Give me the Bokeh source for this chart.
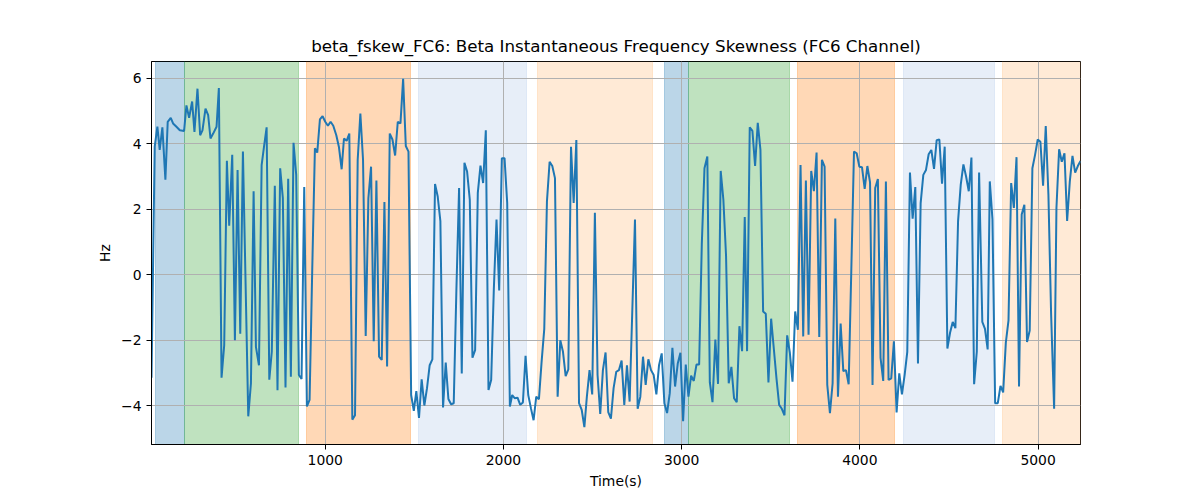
from bokeh.plotting import figure
from bokeh.models import Range1d, FixedTicker, CustomJSTickFormatter
from bokeh.embed import file_html
from bokeh.resources import INLINE

FONT = 'DejaVu Sans'

# DATA

time = [
    25, 43, 58, 71, 86, 103, 116, 133, 146, 165, 184, 208, 221, 236, 253, 266, 283, 298, 311, 328,
    343, 356, 371, 390, 403, 418, 433, 448, 461, 478, 493, 508, 523, 538, 568, 583, 598, 611, 628, 643,
    656, 671, 686, 700, 717, 732, 747, 762, 777, 792, 807, 822, 837, 852, 867, 882, 897, 912, 927, 942,
    955, 970, 985, 1000, 1015, 1030, 1045, 1062, 1077, 1092, 1105, 1120, 1135, 1152, 1167, 1182, 1197, 1212, 1227, 1242,
    1257, 1272, 1287, 1302, 1317, 1332, 1347, 1362, 1377, 1392, 1407, 1422, 1437, 1452, 1467, 1482, 1497, 1511, 1526, 1541,
    1556, 1571, 1586, 1601, 1616, 1631, 1646, 1661, 1676, 1691, 1706, 1721, 1736, 1751, 1766, 1781, 1796, 1811, 1826, 1841,
    1856, 1871, 1886, 1901, 1916, 1931, 1946, 1961, 1976, 1991, 2006, 2021, 2036, 2049, 2064, 2079, 2094, 2109, 2124, 2139,
    2154, 2169, 2184, 2199, 2214, 2229, 2244, 2259, 2274, 2289, 2304, 2319, 2334, 2349, 2364, 2379, 2394, 2409, 2424, 2439,
    2454, 2468, 2483, 2498, 2513, 2528, 2543, 2558, 2573, 2588, 2603, 2618, 2633, 2648, 2663, 2678, 2693, 2708, 2738, 2753,
    2768, 2783, 2798, 2813, 2828, 2843, 2858, 2873, 2888, 2903, 2918, 2933, 2948, 2963, 2978, 2993, 3008, 3023, 3038, 3053,
    3068, 3083, 3098, 3113, 3128, 3144, 3158, 3173, 3189, 3204, 3219, 3234, 3249, 3264, 3279, 3294, 3309, 3324, 3339, 3354,
    3367, 3382, 3397, 3412, 3427, 3442, 3457, 3472, 3487, 3502, 3517, 3532, 3547, 3562, 3577, 3592, 3607, 3622, 3637, 3652,
    3667, 3682, 3697, 3712, 3727, 3742, 3757, 3772, 3787, 3802, 3817, 3832, 3847, 3862, 3877, 3892, 3907, 3922, 3937, 3952,
    3967, 3982, 3997, 4012, 4027, 4042, 4057, 4071, 4086, 4101, 4116, 4131, 4146, 4161, 4176, 4191, 4206, 4221, 4236, 4251,
    4266, 4281, 4296, 4311, 4326, 4341, 4356, 4371, 4386, 4401, 4416, 4431, 4446, 4461, 4476, 4491, 4506, 4521, 4536, 4551,
    4566, 4581, 4596, 4611, 4626, 4641, 4656, 4669, 4687, 4702, 4717, 4729, 4744, 4759, 4774, 4789, 4804, 4819, 4834, 4849,
    4864, 4879, 4893, 4908, 4923, 4938, 4953, 4968, 4983, 4998, 5013, 5028, 5043, 5058, 5073, 5090, 5103, 5118, 5133, 5148,
    5163, 5178, 5193, 5208, 5223, 5238,
]

skew = [
    -3.14, 3.91, 4.52, 3.81, 4.5, 2.9, 4.67, 4.79, 4.62, 4.52, 4.41, 4.39, 5.17, 4.79, 5.29, 4.36, 5.68, 4.26, 4.41, 5.07,
    4.87, 4.16, 4.31, 4.52, 5.7, -3.14, -2.15, 3.48, 1.5, 3.66, -2.0, 3.2, -1.8, 3.76, -4.32, -3.31, 2.55, -2.2, -2.76, 3.35,
    3.9, 4.5, -3.2, -2.35, 2.72, -3.52, 3.25, 2.34, -3.44, 2.93, -3.11, 4.03, 3.05, -3.06, -3.18, 2.68, -4.02, -3.82, 0.17, 3.86,
    3.73, 4.74, 4.84, 4.67, 4.55, 4.67, 4.55, 4.26, 3.89, 3.22, 4.16, 4.09, 4.31, -4.42, -4.29, 3.51, 4.92, 3.51, -1.87, 2.34,
    3.3, -2.03, 2.88, -2.5, -2.6, 2.22, -2.8, 4.31, 4.13, 3.64, 4.67, 4.62, 5.98, 3.93, 3.76, -3.67, -4.15, -3.55, -4.37, -3.19,
    -3.99, -3.46, -2.76, -2.58, 2.77, 2.39, 1.64, -4.05, -2.68, -3.79, -3.95, -3.92, -0.43, 2.65, -3.01, 3.42, 3.15, 2.29, -2.53, -2.3,
    2.5, 3.33, 2.8, 4.41, -3.52, -3.21, -0.43, 1.69, -0.48, 3.56, 3.56, 2.19, -4.02, -3.67, -3.77, -3.75, -3.97, -3.9, -2.47, -3.67,
    -4.07, -4.44, -3.72, -3.8, -2.66, -1.65, 2.24, 3.45, 3.32, 2.95, -3.72, -2.0, -2.35, -3.09, -2.89, 3.91, 2.19, 4.11, -3.92, -4.12,
    -4.65, -3.72, -2.91, -3.65, 1.89, -3.06, -4.25, -2.91, -2.37, -4.19, -4.39, -3.46, -2.96, -2.91, -2.62, -3.97, -2.76, -3.87, 1.69, -4.09,
    -3.72, -2.5, -3.36, -2.58, -2.91, -3.06, -3.65, -2.76, -2.4, -3.92, -4.22, -3.62, -2.23, -3.41, -2.71, -2.38, -4.47, -2.74, -3.72, -3.08,
    -3.24, -2.74, -2.74, 0.94, 3.25, 3.61, -3.28, -3.89, -1.98, -3.33, 3.17, 2.29, 0.58, -3.31, -2.81, -3.77, -3.89, -1.57, -2.33, 1.76,
    -2.33, 4.5, 4.39, 3.32, 4.64, 3.81, -1.12, -1.19, -3.29, -1.34, -2.25, -3.16, -3.97, -4.09, -4.29, -1.85, -2.38, -3.26, -1.12, -1.68,
    3.35, -1.88, 2.88, -1.83, 3.17, 2.55, 3.73, -1.9, 3.51, 3.3, -3.36, -4.22, -3.31, 1.72, -3.72, -1.49, -2.94, -2.91, -3.34, 0.17,
    3.76, 3.71, 3.3, 3.28, 2.62, 3.32, 2.82, -3.36, 2.65, 2.92, -2.54, -3.24, 2.85, -3.21, -3.16, -2.03, -4.2, -3.01, -3.65, -3.06,
    -2.35, 3.12, 1.71, 2.68, -2.71, 2.19, 3.05, 3.2, 3.68, 3.81, 3.23, 4.11, 4.13, 2.78, 3.91, -2.25, -1.77, -1.44, -1.63, 1.64,
    2.75, 3.37, 3.0, 2.55, 3.58, -3.34, -2.35, 3.12, -1.44, -1.65, -2.28, 2.85, 1.69, -3.92, -3.92, -3.39, -3.59, -2.07, -1.39, 2.8,
    2.04, 3.59, -3.41, 1.84, 2.14, -2.05, -1.7, 3.25, 3.66, 4.13, 4.06, 2.72, 4.54, 2.44, -1.19, -4.09, 2.04, 3.83, 3.45, 3.71,
    1.64, 2.85, 3.63, 3.12, 3.32, 3.47,
]

band_start = [49, 212, 897, 1526, 2189, 2903, 3036, 3650, 4246, 4802]
band_end = [212, 850, 1476, 2131, 2839, 3036, 3603, 4193, 4757, 5238]
band_color = ['#1f77b4', '#2ca02c', '#ff7f0e', '#aec7e8', '#ffbb78',
              '#1f77b4', '#2ca02c', '#ff7f0e', '#aec7e8', '#ffbb78']

x_ticks = [1000, 2000, 3000, 4000, 5000]
y_ticks = [-4, -2, 0, 2, 4, 6]

# DATA VISUALIZING

p = figure(
    title='beta_fskew_FC6: Beta Instantaneous Frequency Skewness (FC6 Channel)',
    width=1190,
    height=492,
    x_range=Range1d(time[0], time[-1]),
    y_range=Range1d(-5.18, 6.51),
    x_axis_label='Time(s)',
    y_axis_label='Hz',
    toolbar_location=None,
    tools='',
    output_backend='svg',
    min_border_left=151,
    min_border_right=110,
    min_border_top=61,
    min_border_bottom=48,
)

bands = p.vstrip(
    x0=band_start,
    x1=band_end,
    fill_color=band_color,
    fill_alpha=0.3,
    line_color=band_color,
    line_alpha=0.3,
    line_width=1,
)
# keep the grid drawn above the shaded spans
bands.level = 'image'

p.line(time, skew, line_color='#1f77b4', line_width=2)

minus = CustomJSTickFormatter(code="return tick < 0 ? '\\u2212' + (-tick) : String(tick);")
p.xaxis.ticker = FixedTicker(ticks=x_ticks)
p.yaxis.ticker = FixedTicker(ticks=y_ticks)
p.yaxis.formatter = minus

p.grid.grid_line_color = '#b0b0b0'
p.grid.grid_line_width = 1

p.outline_line_color = 'black'
p.outline_line_width = 1
p.axis.axis_line_color = 'black'
p.axis.major_tick_line_color = 'black'
p.axis.major_tick_in = 0
p.axis.major_tick_out = 5
p.axis.minor_tick_line_color = None

p.title.align = 'center'
p.title.text_font = FONT
p.title.text_font_size = '16.7px'
p.title.text_font_style = 'normal'
p.title.text_color = 'black'
p.title.standoff = 12
p.axis.major_label_text_font = FONT
p.axis.major_label_text_font_size = '13.9px'
p.axis.major_label_text_color = 'black'
p.axis.axis_label_text_font = FONT
p.axis.axis_label_text_font_size = '13.9px'
p.axis.axis_label_text_font_style = 'normal'
p.axis.axis_label_text_color = 'black'

open("out.html", "w").write(file_html(p, INLINE))
